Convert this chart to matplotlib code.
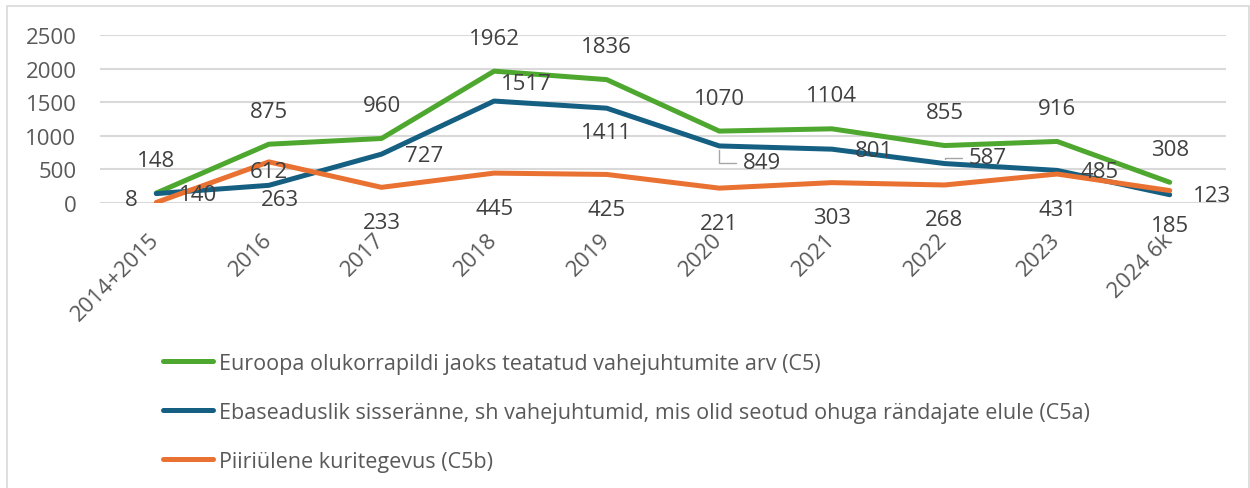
import matplotlib
matplotlib.use("Agg")
import matplotlib.pyplot as plt
from matplotlib.patches import Rectangle

plt.rcParams['font.family'] = ['Open Sans', 'DejaVu Sans']

categories = ["2014+2015", "2016", "2017", "2018", "2019", "2020", "2021", "2022", "2023", "2024 6k"]
c5 = [148, 875, 960, 1962, 1836, 1070, 1104, 855, 916, 308]
c5a = [140, 263, 727, 1517, 1411, 849, 801, 587, 485, 123]
c5b = [8, 612, 233, 445, 425, 221, 303, 268, 431, 185]
names = ["Euroopa olukorrapildi jaoks teatatud vahejuhtumite arv (C5)",
         "Ebaseaduslik sisseränne, sh vahejuhtumid, mis olid seotud ohuga rändajate elule (C5a)",
         "Piiriülene kuritegevus (C5b)"]
colors = ["#4EA72E", "#156082", "#E97132"]
yticks = [0, 500, 1000, 1500, 2000, 2500]

W, H = 1250, 489
fig = plt.figure(figsize=(W / 100, H / 100), dpi=100)
fig.patches.append(Rectangle((7 / W, -0.01), (W - 8) / W, 1 - 7 / H + 0.01,
                             transform=fig.transFigure, fill=False,
                             edgecolor="#d9d9d9", linewidth=1.2))
ax = fig.add_axes([100 / W, 1 - 204 / H, 1126 / W, 168 / H])
x = list(range(len(categories)))

lw = 3.6
ax.plot(x, c5, color=colors[0], lw=lw, solid_capstyle='round', solid_joinstyle='round', label=names[0], zorder=3)
ax.plot(x, c5a, color=colors[1], lw=lw, solid_capstyle='round', solid_joinstyle='round', label=names[1], zorder=4)
ax.plot(x, c5b, color=colors[2], lw=lw, solid_capstyle='round', solid_joinstyle='round', label=names[2], zorder=5)

ax.set_xlim(-0.5, len(categories) - 0.5)
ax.set_ylim(0, 2500)
ax.set_yticks(yticks)
ax.set_yticklabels([str(v) for v in yticks])
ax.set_xticks(x)
ax.set_xticklabels(categories, rotation=45, ha='right', va='center', rotation_mode='anchor')
ax.grid(axis='y', color='#d9d9d9', lw=1.5, zorder=0)
ax.set_axisbelow(True)
for s in ax.spines.values():
    s.set_visible(False)
ax.tick_params(axis='both', length=0, labelsize=16, labelcolor='#595959')
ax.tick_params(axis='y', pad=17)
ax.tick_params(axis='x', pad=24)

fs = 16
tc = '#404040'

def lab(i, v, dx, dy, ha='center', leader=False):
    kw = {}
    if leader:
        kw['arrowprops'] = dict(arrowstyle='-', color='#a6a6a6', lw=1,
                                connectionstyle='angle,angleA=0,angleB=90,rad=0',
                                relpos=(0, 0.5), shrinkA=3, shrinkB=3)
    ax.annotate(str(v), xy=(i, v), xytext=(dx, dy), textcoords='offset pixels',
                ha=ha, va='center', fontsize=fs, color=tc, zorder=6, **kw)

for i, v in enumerate(c5):
    lab(i, v, 0, 33)

blue_off = {1: (11, -14, 'center'), 3: (7, 18, 'left'), 4: (0, -24, 'center'),
            5: (24, -17, 'left'), 7: (24, 6, 'left')}
for i, v in enumerate(c5a):
    dx, dy, ha = blue_off.get(i, (23, -1, 'left'))
    lab(i, v, dx, dy, ha, leader=(i in (5, 7)))

orange_off = {0: (-19, 3, 'right'), 1: (0, -10, 'center')}
for i, v in enumerate(c5b):
    dx, dy, ha = orange_off.get(i, (0, -35, 'center'))
    lab(i, v, dx, dy, ha)

leg = fig.legend(loc='upper left', bbox_to_anchor=(163 / W, 1 - 354 / H),
                 frameon=False, fontsize=15.5, handlelength=2.3, handletextpad=0.3,
                 labelspacing=1.3, borderpad=0, borderaxespad=0)
for t in leg.get_texts():
    t.set_color('#595959')
for l in leg.get_lines():
    l.set_linewidth(3.6)
    l.set_solid_capstyle('round')

fig.savefig("out.png", dpi=100)
